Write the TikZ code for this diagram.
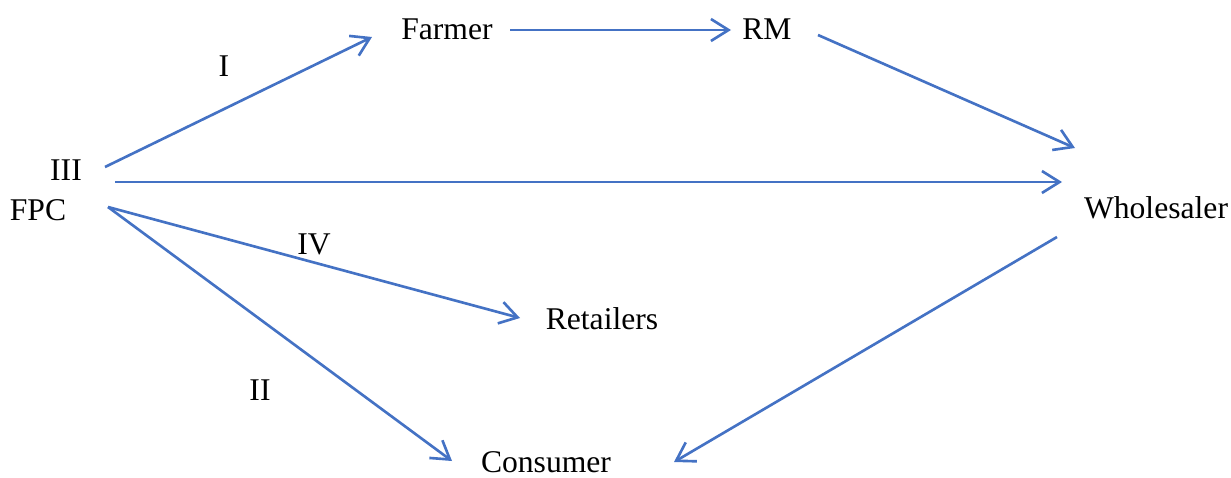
\documentclass[tikz,border=0pt]{standalone}
\usepackage{fontspec}
\setmainfont{Liberation Serif}
\usetikzlibrary{arrows.meta}

\definecolor{flowblue}{RGB}{68,114,196}
\tikzset{
    lbl/.style={inner sep=0pt, font=\fontsize{18}{21}\selectfont},
    flow/.style={flowblue, line width=1.5pt, -{Straight Barb[length=10pt,width=12.5pt,line width=1.5pt]}}
}

\begin{document}
\begin{tikzpicture}[x=0.02cm, y=-0.02cm]
                \useasboundingbox (0,0) rectangle (1231,477);
                % actors
                \node[lbl] (fpc) at (38,210) {FPC};
                \node[lbl] (farmer) at (447,29) {Farmer};
                \node[lbl] (rm) at (767,29) {RM};
                \node[lbl] (wholesaler) at (1156,208) {Wholesaler};
                \node[lbl] (retailers) at (602,319) {Retailers};
                \node[lbl] (consumer) at (546,462) {Consumer};
                % channel numbers
                \node[lbl] (ch1) at (224,66) {I};
                \node[lbl] (ch2) at (260,390) {II};
                \node[lbl] (ch3) at (66,170) {III};
                \node[lbl] (ch4) at (314,244) {IV};
                % channels
                \draw[flow] ([shift={(67,-43)}]fpc.center) -- ([shift={(-75,8)}]farmer.center);
                \draw[flow] ([shift={(63,1)}]farmer.center) -- ([shift={(-36,1)}]rm.center);
                \draw[flow] ([shift={(51,6)}]rm.center) -- ([shift={(-81,-60)}]wholesaler.center);
                \draw[flow] ([shift={(77,-28)}]fpc.center) -- ([shift={(-94,-26)}]wholesaler.center);
                \draw[flow] ([shift={(70,-3)}]fpc.center) -- ([shift={(-82,-1)}]retailers.center);
                \draw[flow] ([shift={(70,-3)}]fpc.center) -- ([shift={(-94,-1)}]consumer.center);
                \draw[flow] ([shift={(-99,29)}]wholesaler.center) -- ([shift={(128,0)}]consumer.center);
            \end{tikzpicture}
\end{document}
